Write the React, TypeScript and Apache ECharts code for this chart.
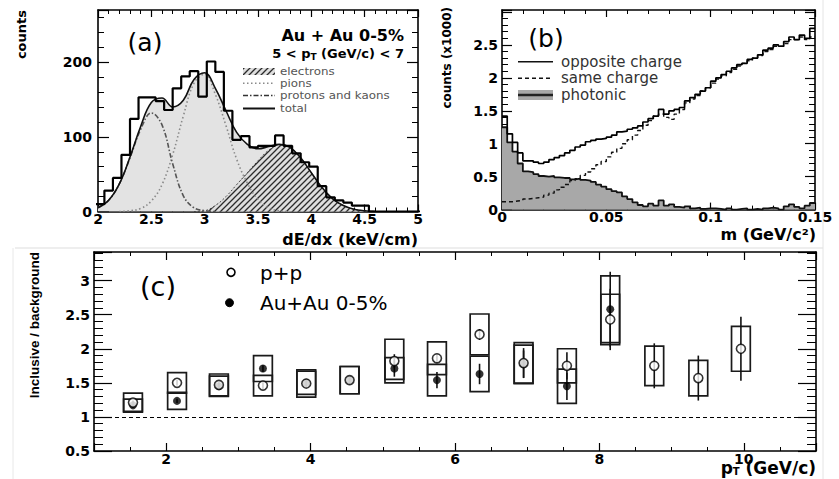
import React, { useEffect, useRef } from "react";
import * as echarts from "echarts";

const FONT = "DejaVu Sans";

// ---------------- panel (a): dE/dx distribution ----------------
const dedxBinStart = 1.98;
const dedxBinWidth = 0.08;
const dedxCounts = [10, 28, 45, 76, 124, 153, 153, 148, 136, 165, 181, 188, 154, 201, 187, 135, 96, 101, 86, 88, 88, 102, 88, 78, 66, 60, 34, 19, 15, 12, 8, 8, 0, 0, 0, 0, 0, 0];
const fitX = [2.0, 2.1, 2.2, 2.3, 2.4, 2.5, 2.6, 2.7, 2.8, 2.9, 3.0, 3.1, 3.2, 3.3, 3.4, 3.5, 3.6, 3.7, 3.8, 3.9, 4.0, 4.1, 4.2, 4.3, 4.4, 4.5, 4.6];
const fitKaons = [5, 15, 37, 72, 110, 132, 116, 64, 21, 5, 1, 0, null, null, null, null, null, null, null, null, null, null, null, null, null, null, null];
const fitPions = [null, null, 0, 1, 4, 14, 36, 76, 128, 172, 184, 157, 115, 70, 38, 16, 5, 1, 0, null, null, null, null, null, null, null, null];
const fitElectrons = [null, null, null, null, null, null, null, null, null, 0, 1, 8, 20, 36, 52, 68, 82, 89, 86, 72, 52, 32, 17, 8, 3, 1, 0];
const fitTotal = [5, 15, 37, 73, 114, 146, 152, 140, 149, 177, 186, 165, 135, 106, 90, 84, 87, 90, 86, 72, 52, 32, 17, 8, 3, 1, 0];

// ---------------- panel (b): invariant mass ----------------
const massBinWidth = 0.0025;
const oppositeCharge = [
  1.42, 1.15, 1.02, 0.86, 0.74, 0.74, 0.72, 0.70, 0.72, 0.76,
  0.79, 0.82, 0.86, 0.90, 0.95, 0.98, 1.03, 1.05, 1.07, 1.08,
  1.10, 1.13, 1.18, 1.19, 1.22, 1.24, 1.27, 1.33, 1.38, 1.42,
  1.52, 1.45, 1.50, 1.52, 1.55, 1.65, 1.70, 1.75, 1.80, 1.85,
  1.95, 2.00, 2.05, 2.10, 2.15, 2.20, 2.22, 2.28, 2.30, 2.35,
  2.42, 2.45, 2.50, 2.48, 2.55, 2.62, 2.58, 2.65, 2.60, 2.75,
];
const sameCharge = [
  0.12, 0.12, 0.13, 0.14, 0.16, 0.17, 0.18, 0.19, 0.22, 0.25,
  0.30, 0.34, 0.38, 0.44, 0.47, 0.52, 0.57, 0.62, 0.68, 0.73,
  0.80, 0.87, 0.93, 1.00, 1.06, 1.13, 1.20, 1.28, 1.35, 1.42,
  1.45, 1.40, 1.37, 1.45, 1.52, 1.62, 1.68, 1.73, 1.80, 1.85,
  1.92, 1.98, 2.03, 2.08, 2.13, 2.18, 2.22, 2.26, 2.30, 2.34,
  2.40, 2.43, 2.48, 2.48, 2.52, 2.58, 2.58, 2.62, 2.58, 2.62,
];
const photonic = [
  1.25, 1.02, 0.88, 0.70, 0.58, 0.57, 0.54, 0.51, 0.50, 0.51,
  0.49, 0.48, 0.48, 0.46, 0.47, 0.45, 0.44, 0.42, 0.38, 0.35,
  0.31, 0.28, 0.26, 0.20, 0.16, 0.11, 0.07, 0.05, 0.09, 0.06,
  0.14, 0.06, 0.08, 0.04, 0.03, 0.05, 0.02, 0.03, 0.01, 0.02,
  0.02, 0.01, 0.00, 0.02, 0.00, 0.01, 0.02, 0.00, 0.01, 0.00,
  0.02, 0.03, 0.02, 0.00, 0.05, 0.08, 0.04, 0.02, 0.06, 0.10,
];

// ---------------- panel (c): inclusive / background ----------------
const ptBins = [1.54, 2.15, 2.73, 3.34, 3.94, 4.54, 5.16, 5.75, 6.34, 6.95, 7.55, 8.15, 8.76, 9.37, 9.96];
const ppRatio = [1.21, 1.50, 1.47, 1.46, 1.49, 1.54, 1.82, 1.86, 2.21, 1.79, 1.75, 2.43, 1.75, 1.57, 2.00];
const ppStat = [0.03, 0.04, 0.04, 0.05, 0.05, 0.06, 0.10, 0.06, 0.08, 0.22, 0.20, 0.45, 0.33, 0.33, 0.47];
const ppSys = [0.14, 0.15, 0.16, 0.15, 0.20, 0.20, 0.32, 0.24, 0.30, 0.30, 0.25, 0.37, 0.29, 0.26, 0.33];
const auRatio = [1.17, 1.235, 1.45, 1.71, 1.50, 1.54, 1.71, 1.54, 1.63, 1.775, 1.45, 2.58];
const auStat = [0.03, 0.03, 0.04, 0.05, 0.05, 0.06, 0.12, 0.12, 0.15, 0.20, 0.20, 0.55];
const auSys = [0.09, 0.125, 0.15, 0.19, 0.17, 0.20, 0.16, 0.23, 0.26, 0.28, 0.25, 0.49];
const BOX_HALF = 0.13;

// ---------------- helpers ----------------
const histPoints = (start: number, width: number, vals: number[]) => {
  const pts = vals.map((v, i) => [start + i * width, v]);
  pts.push([start + vals.length * width, vals[vals.length - 1]]);
  return pts;
};
const curvePoints = (vals: (number | null)[]) =>
  fitX.map((x, i) => [x, vals[i]]).filter((p) => p[1] !== null);

const hatchSvg =
  "<svg xmlns='http://www.w3.org/2000/svg' width='6' height='6'><rect width='6' height='6' fill='#dedede'/><path d='M0,6 L6,0 M-1,1 L1,-1 M5,7 L7,5' stroke='#2b2b2b' stroke-width='1.3'/></svg>";
const hatch: any = {
  image: "data:image/svg+xml;charset=utf-8," + encodeURIComponent(hatchSvg),
  repeat: "repeat",
  imageWidth: 6,
  imageHeight: 6,
};

const tickLabel = { fontFamily: FONT, fontWeight: "bold", fontSize: 14, color: "#000", lineHeight: 15 };

const mkAxis = (gridIndex: number, position: string, o: any) => ({
  type: "value",
  gridIndex,
  position,
  min: o.min,
  max: o.max,
  interval: o.interval,
  splitNumber: o.splitNumber,
  axisLine: { show: true, onZero: false, lineStyle: { color: "#000", width: 1.6 } },
  axisTick: { show: true, inside: true, length: o.tickLen ?? 8, lineStyle: { color: "#000", width: 1.2 } },
  minorTick: { show: true, splitNumber: o.minor, length: o.minorLen ?? 4, lineStyle: { color: "#000", width: 1 } },
  splitLine: { show: false },
  axisLabel: o.labels
    ? {
        show: true,
        ...tickLabel,
        margin: o.margin,
        showMinLabel: o.showMin ?? true,
        showMaxLabel: o.showMax ?? true,
        formatter: o.formatter,
      }
    : { show: false },
});

const txt = (x: number, y: number, text: string, st: any, extra: any = {}) => ({
  type: "text",
  x,
  y,
  ...extra,
  style: {
    text,
    fill: "#000",
    fontFamily: FONT,
    align: st.align || "left",
    textAlign: st.align || "left",
    verticalAlign: "middle",
    textVerticalAlign: "middle",
    ...st,
  },
});
const seg = (x1: number, y1: number, x2: number, y2: number, style: any) => ({
  type: "line",
  shape: { x1, y1, x2, y2 },
  style,
});

const boxRender = (params: any, api: any) => {
  const x = api.value(0);
  const a = api.coord([x - BOX_HALF, api.value(2)]);
  const b = api.coord([x + BOX_HALF, api.value(1)]);
  return {
    type: "rect",
    shape: { x: a[0], y: a[1], width: b[0] - a[0], height: b[1] - a[1] },
    style: { fill: "none", stroke: "#1a1a1a", lineWidth: 1.7 },
  };
};
const errRender = (params: any, api: any) => {
  const x = api.value(0);
  const a = api.coord([x, api.value(1)]);
  const b = api.coord([x, api.value(2)]);
  return {
    type: "line",
    shape: { x1: a[0], y1: a[1], x2: b[0], y2: b[1] },
    style: { stroke: "#111", lineWidth: 1.6 },
  };
};

function buildOption(): any {
  const xa = { min: 2, max: 5, interval: 0.5, minor: 5, tickLen: 7, minorLen: 4 };
  const ya = { min: 0, max: 270, interval: 100, minor: 5, tickLen: 11, minorLen: 6 };
  const xb = { min: 0, max: 0.15, interval: 0.05, minor: 5, tickLen: 7, minorLen: 4 };
  const yb = { min: 0, max: 3.03, interval: 0.5, minor: 5, tickLen: 10, minorLen: 6 };
  const xc = { min: 1, max: 11, splitNumber: 5, minor: 4, tickLen: 8, minorLen: 4 };
  const yc = { min: 0.5, max: 3.42, interval: 0.5, minor: 5, tickLen: 18, minorLen: 9 };

  const dashedLine = [4, 3];
  const legA = { fontSize: 10.5, fill: "#555", lineHeight: 10 };
  const legAScale = { scaleX: 1.13 };

  return {
    animation: false,
    backgroundColor: "#fff",
    grid: [
      { left: 98, top: 10, width: 320, height: 201.5 },
      { left: 502, top: 10, width: 313, height: 199.6 },
      { left: 94, top: 252, width: 722, height: 199 },
    ],
    xAxis: [
      mkAxis(0, "bottom", { ...xa, labels: true, margin: 0 }),
      mkAxis(0, "top", xa),
      mkAxis(1, "bottom", { ...xb, labels: true, margin: 0 }),
      mkAxis(1, "top", xb),
      mkAxis(2, "bottom", { ...xc, labels: true, margin: 0, showMin: false, showMax: false }),
      mkAxis(2, "top", xc),
    ],
    yAxis: [
      mkAxis(0, "left", { ...ya, labels: true, margin: 6, showMax: false }),
      mkAxis(0, "right", ya),
      mkAxis(1, "left", {
        ...yb,
        labels: true,
        margin: 4,
        showMax: false,
        formatter: (v: number) => (v > 2.9 ? "" : String(v)),
      }),
      mkAxis(1, "right", yb),
      mkAxis(2, "left", { ...yc, labels: true, margin: 4, showMax: false }),
      mkAxis(2, "right", yc),
    ],
    series: [
      // ----- panel (a)
      {
        type: "line", xAxisIndex: 0, yAxisIndex: 0, z: 1,
        data: curvePoints(fitTotal), smooth: 0.4, showSymbol: false,
        lineStyle: { width: 0 }, areaStyle: { color: "#e3e3e3", opacity: 1 },
      },
      {
        type: "line", xAxisIndex: 0, yAxisIndex: 0, z: 2,
        data: curvePoints(fitElectrons), smooth: 0.4, showSymbol: false,
        lineStyle: { color: "#444", width: 1, type: [2, 2] }, areaStyle: { color: hatch, opacity: 1 },
      },
      {
        type: "line", xAxisIndex: 0, yAxisIndex: 0, z: 3,
        data: curvePoints(fitPions), smooth: 0.4, showSymbol: false,
        lineStyle: { color: "#8a8a8a", width: 1.6, type: [1.5, 2.5] },
      },
      {
        type: "line", xAxisIndex: 0, yAxisIndex: 0, z: 3,
        data: curvePoints(fitKaons), smooth: 0.4, showSymbol: false,
        lineStyle: { color: "#555", width: 1.6, type: [5, 2, 1.5, 2] },
      },
      {
        type: "line", xAxisIndex: 0, yAxisIndex: 0, z: 4,
        data: curvePoints(fitTotal), smooth: 0.4, showSymbol: false,
        lineStyle: { color: "#111", width: 1.6 },
      },
      {
        type: "line", xAxisIndex: 0, yAxisIndex: 0, z: 5,
        data: histPoints(dedxBinStart, dedxBinWidth, dedxCounts), step: "end", showSymbol: false,
        lineStyle: { color: "#000", width: 2.2 },
      },
      // ----- panel (b)
      {
        type: "line", xAxisIndex: 2, yAxisIndex: 2, z: 1,
        data: histPoints(0, massBinWidth, photonic), step: "end", showSymbol: false,
        lineStyle: { color: "#111", width: 1.8 }, areaStyle: { color: "#a8a8a8", opacity: 1 },
      },
      {
        type: "line", xAxisIndex: 2, yAxisIndex: 2, z: 2,
        data: histPoints(0, massBinWidth, sameCharge), step: "end", showSymbol: false,
        lineStyle: { color: "#111", width: 1.4, type: dashedLine },
      },
      {
        type: "line", xAxisIndex: 2, yAxisIndex: 2, z: 3,
        data: histPoints(0, massBinWidth, oppositeCharge), step: "end", showSymbol: false,
        lineStyle: { color: "#000", width: 1.7 },
      },
      // ----- panel (c)
      {
        type: "custom", xAxisIndex: 4, yAxisIndex: 4, z: 2,
        data: ptBins.map((x, i) => [x, ppRatio[i] - ppSys[i], ppRatio[i] + ppSys[i]]),
        renderItem: boxRender,
      },
      {
        type: "custom", xAxisIndex: 4, yAxisIndex: 4, z: 2,
        data: auRatio.map((v, i) => [ptBins[i], v - auSys[i], v + auSys[i]]),
        renderItem: boxRender,
      },
      {
        type: "custom", xAxisIndex: 4, yAxisIndex: 4, z: 3,
        data: ptBins.map((x, i) => [x, ppRatio[i] - ppStat[i], ppRatio[i] + ppStat[i]]),
        renderItem: errRender,
      },
      {
        type: "custom", xAxisIndex: 4, yAxisIndex: 4, z: 3,
        data: auRatio.map((v, i) => [ptBins[i], v - auStat[i], v + auStat[i]]),
        renderItem: errRender,
      },
      {
        type: "scatter", xAxisIndex: 4, yAxisIndex: 4, z: 5,
        data: auRatio.map((v, i) => [ptBins[i], v]),
        symbol: "circle", symbolSize: 8,
        itemStyle: { color: "#000" },
      },
      {
        type: "scatter", xAxisIndex: 4, yAxisIndex: 4, z: 6,
        data: ptBins.map((x, i) => [x, ppRatio[i]]),
        symbol: "circle", symbolSize: 9,
        itemStyle: { color: "#fff", borderColor: "#000", borderWidth: 1.6 },
        markLine: {
          silent: true,
          symbol: ["none", "none"],
          label: { show: false },
          lineStyle: { color: "#000", width: 1.2, type: dashedLine },
          data: [{ yAxis: 1 }],
        },
      },
    ],
    graphic: [
      // faint frame lines of the scanned figure
      seg(15, 248, 823, 248, { stroke: "#dddddd", lineWidth: 1 }),
      seg(823, 0, 823, 479, { stroke: "#e4e4e4", lineWidth: 1 }),
      seg(13, 248, 13, 479, { stroke: "#e8e8e8", lineWidth: 1 }),
      // ----- panel (a) texts
      txt(145, 42, "(a)", { fontSize: 25, align: "center" }),
      txt(404, 35, "Au + Au 0-5%", { fontSize: 16, fontWeight: "bold", align: "right" }),
      txt(404, 53, "{m|5 < p}{s|T}{m| (GeV/c) < 7}", {
        align: "right",
        rich: {
          m: { fontSize: 13, fontWeight: "bold", fontFamily: FONT, lineHeight: 16, verticalAlign: "middle" },
          s: { fontSize: 9, fontWeight: "bold", fontFamily: FONT, lineHeight: 16, verticalAlign: "bottom" },
        },
      }),
      {
        type: "rect",
        shape: { x: 243, y: 68, width: 32, height: 7 },
        style: { fill: hatch, stroke: "none" },
      },
      seg(243, 83.3, 275, 83.3, { stroke: "#8a8a8a", lineWidth: 1.6, lineDash: [1.5, 2.5] }),
      seg(243, 95.5, 275, 95.5, { stroke: "#333", lineWidth: 1.6, lineDash: [5, 2, 1.5, 2] }),
      seg(243, 108.5, 275, 108.5, { stroke: "#111", lineWidth: 2 }),
      txt(280, 71.5, "electrons", legA, legAScale),
      txt(280, 83.3, "pions", legA, legAScale),
      txt(280, 95.5, "protons and kaons", legA, legAScale),
      txt(280, 108.5, "total", legA, legAScale),
      txt(21.5, 10, "counts", { fontSize: 13, fontWeight: "bold", align: "right" }, { rotation: Math.PI / 2 }),
      txt(418, 239, "dE/dx (keV/cm)", { fontSize: 16, fontWeight: "bold", align: "right" }),
      // ----- panel (b) texts
      txt(546, 38, "(b)", { fontSize: 25, align: "center" }),
      seg(518, 61.7, 553, 61.7, { stroke: "#111", lineWidth: 1.5 }),
      seg(518, 78.3, 553, 78.3, { stroke: "#111", lineWidth: 1.4, lineDash: [4, 3] }),
      {
        type: "rect",
        shape: { x: 518, y: 90, width: 35, height: 10 },
        style: { fill: "#a8a8a8", stroke: "none" },
      },
      seg(518, 95, 553, 95, { stroke: "#222", lineWidth: 2.5 }),
      txt(561, 61.7, "opposite charge", { fontSize: 15, fill: "#333" }),
      txt(561, 78.3, "same charge", { fontSize: 15, fill: "#333" }),
      txt(561, 95, "photonic", { fontSize: 15, fill: "#333" }),
      txt(446.5, 7, "counts (x1000)", { fontSize: 12, fontWeight: "bold", align: "right" }, { rotation: Math.PI / 2 }),
      txt(816, 234, "m (GeV/c²)", { fontSize: 16, fontWeight: "bold", align: "right" }),
      // ----- panel (c) texts
      txt(158, 286, "(c)", { fontSize: 27, align: "center" }),
      { type: "circle", shape: { cx: 231, cy: 272.3, r: 4 }, style: { fill: "#fff", stroke: "#000", lineWidth: 1.6 } },
      { type: "circle", shape: { cx: 229.5, cy: 302.7, r: 4 }, style: { fill: "#000", stroke: "#000", lineWidth: 1 } },
      txt(260, 273, "p+p", { fontSize: 20 }),
      txt(260, 303, "Au+Au 0-5%", { fontSize: 20 }),
      txt(34, 252, "Inclusive / background", { fontSize: 13.5, fontWeight: "bold", fontFamily: "Liberation Sans", align: "right" }, { rotation: Math.PI / 2 }),
      txt(816, 468, "{m|p}{s|T}{m| (GeV/c)}", {
        align: "right",
        rich: {
          m: { fontSize: 17, fontWeight: "bold", fontFamily: FONT, lineHeight: 16, verticalAlign: "middle" },
          s: { fontSize: 10, fontWeight: "bold", fontFamily: FONT, lineHeight: 16, verticalAlign: "bottom" },
        },
      }),
    ],
  };
}

export default function App() {
  const ref = useRef<HTMLDivElement>(null);
  useEffect(() => {
    if (!ref.current) return;
    const chart = echarts.init(ref.current, undefined, { renderer: "svg" });
    chart.setOption(buildOption());
    return () => chart.dispose();
  }, []);
  return (
    <div
      ref={ref}
      style={{ position: "fixed", left: 0, top: 0, width: 839, height: 479, background: "#fff" }}
    />
  );
}
